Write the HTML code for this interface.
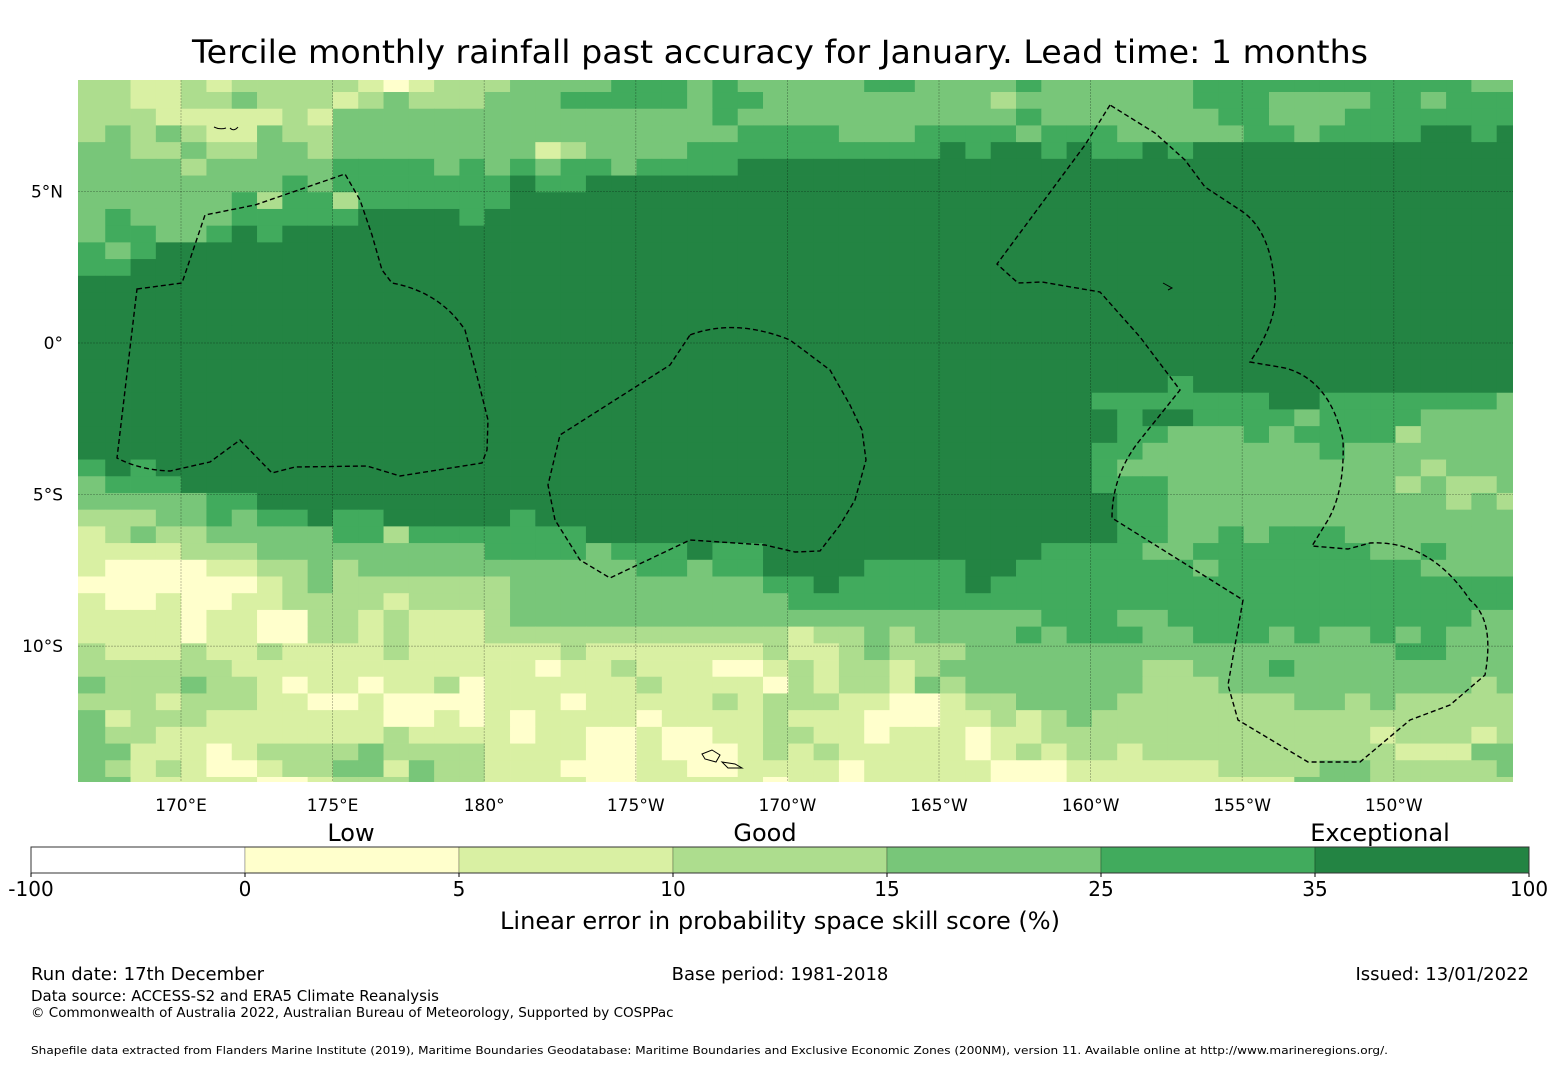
<!DOCTYPE html>
<html><head><meta charset="utf-8">
<style>
html,body{margin:0;padding:0;background:#fff;}
svg{display:block;font-family:"DejaVu Sans","Liberation Sans",sans-serif;}
</style></head>
<body>
<svg id="chart" width="1560" height="1065" viewBox="0 0 1560 1065" xmlns="http://www.w3.org/2000/svg">
<defs><clipPath id="mapclip"><rect x="78" y="80" width="1435" height="702"/></clipPath></defs>
<text x="780" y="63" text-anchor="middle" font-size="32" textLength="1176" lengthAdjust="spacingAndGlyphs">Tercile monthly rainfall past accuracy for January. Lead time: 1 months</text>
<g id="cells" clip-path="url(#mapclip)"></g>
<g id="grid" clip-path="url(#mapclip)"></g>
<g clip-path="url(#mapclip)" fill="none" stroke="#000" stroke-width="1.4" stroke-dasharray="5,3">
<path d="M137,289 L182,283 L205,215 L255,205 L345,174 L360,200 L372,235 L382,270 L392,283 Q440,292 465,330 L478,380 L488,420 L487,450 L482,463 L400,476 L367,466 L295,467 L272,473 L240,440 L210,462 L170,471 Q140,470 117,458 Z"/>
<path d="M690,335 Q735,318 790,340 L830,370 L850,405 L862,430 L866,460 L855,500 L840,525 L820,551 L795,552 L765,545 L690,540 L610,578 L580,560 L555,520 L548,485 L560,435 L670,365 Z"/>
<path d="M1110,105 L1085,145 L997,264 L1018,283 L1042,282 L1100,292 L1140,337 L1180,390 L1140,440 Q1112,475 1112,518 L1243,600 L1228,685 L1238,720 L1308,762 L1360,762 L1410,720 L1450,705 L1485,675 Q1495,620 1470,600 Q1430,540 1370,543 L1348,549 L1312,546 L1328,520 Q1345,490 1343,440 Q1330,380 1285,368 L1250,362 Q1278,320 1275,290 Q1272,230 1240,210 L1205,187 L1185,160 L1155,133 Z"/>
</g>
<g fill="none" stroke="#000" stroke-width="1">
<path d="M702,754 L712,750 L720,755 L716,762 L705,759 Z M722,762 L735,764 L742,768 L728,768 Z"/>
<path d="M214,127 Q220,130 226,128 M230,128 Q234,132 238,127"/>
<path d="M1163,283 L1172,288 L1168,290"/>
</g>
<g id="ticks" font-size="17"></g>
<g id="cbar"></g>
<text x="351" y="841" text-anchor="middle" font-size="24">Low</text>
<text x="765" y="841" text-anchor="middle" font-size="24">Good</text>
<text x="1380" y="841" text-anchor="middle" font-size="24">Exceptional</text>
<text x="780" y="929" text-anchor="middle" font-size="24" textLength="560" lengthAdjust="spacingAndGlyphs">Linear error in probability space skill score (%)</text>
<text x="31" y="980" font-size="18">Run date: 17th December</text>
<text x="780" y="980" text-anchor="middle" font-size="18">Base period: 1981-2018</text>
<text x="1529" y="980" text-anchor="end" font-size="18">Issued: 13/01/2022</text>
<text x="31" y="1001" font-size="15">Data source: ACCESS-S2 and ERA5 Climate Reanalysis</text>
<text x="31" y="1017" font-size="13.5">© Commonwealth of Australia 2022, Australian Bureau of Meteorology, Supported by COSPPac</text>
<text x="31" y="1054" font-size="11" textLength="1357" lengthAdjust="spacingAndGlyphs">Shapefile data extracted from Flanders Marine Institute (2019), Maritime Boundaries Geodatabase: Maritime Boundaries and Exclusive Economic Zones (200NM), version 11. Available online at http://www.marineregions.org/.</text>
</svg>
<script>
const categoryColors = ["#ffffff","#ffffcc","#d9f0a3","#addd8e","#78c679","#41ab5d","#238443"];
const cbarBounds = ["-100","0","5","10","15","25","35","100"];
const latTicks = [5,0,-5,-10];
const latTickLabels = ["5°N","0°","5°S","10°S"];
const lonTicks = [170,175,180,185,190,195,200,205,210];
const lonTickLabels = ["170°E","175°E","180°","175°W","170°W","165°W","160°W","155°W","150°W"];
const gridLon0 = 166.667, gridDLon = 0.8344, gridLat0 = 8.829, gridDLat = 0.551;
const S6 = "666666666666666666666666666666666666666666666666666666666";
const skillRows = [
"3322323333321233344445554544"+"44455444454444445555555555544",
"3322334333234333444555554554"+"44444444344444445554444554555",
"3332222232444444444444444544"+"44444444454444444554445555555",
"3434322433444444444444444455"+"55444555545554444455455556656",
"4433433443444444442344445555"+"55555565665655656666666666666",
"4444344444555545454554555566"+"66666666666666666666666666666",
"4444444454555555565566666666"+"66666666666666666666666666666",
"4444445355355555566666666666"+"66666666666666666666666666666",
"4544445555566665666666666666"+"66666666666666666666666666666",
"4554456566666666666666666666"+"66666666666666666666666666666",
"5456666666666666666666666666"+"66666666666666666666666666666",
"5566666666666666666666666666"+"66666666666666666666666666666",
S6,S6,S6,S6,S6,S6,
"6666666666666666666666666666"+"66666666666666656666666666666",
"6666666666666666666666666666"+"66666666666655555556655555554",
"6666666666666666666666666666"+"66666666666665665555455554444",
"6666666666666666666666666666"+"66666666666665544454555534444",
"6666666666666666666666666666"+"66666666666655444444454444444",
"5656666666666666666666666666"+"66666666666654444444444443444",
"4555666666666666666666666666"+"66666666666655544444444434334",
"4444455666666666666666666666"+"66666666666665544444444444343",
"3334454556556666656666666666"+"66666666666665544444444444444",
"2343344444553555555566666666"+"66666666666665544545554444444",
"2222333444444444555545556556"+"66666666665555445555555445444",
"2111122334344444444444554556"+"66655556655555554555555554444",
"1111111234333333344444444445"+"56555556555555555555555555555",
"2112112233332333344444444444"+"55555555555555555555555555555",
"2222122113323222344444444444"+"44444444445554455555555555544",
"2222122113323222333333333333"+"23343444454555445554544545444",
"3222322322223222222322222223"+"22343334444444444444444455444",
"3333332222222222221223222112"+"32332344444444334445444444444",
"4333433212212231222222322221"+"32332434444444333444444444434",
"3332333221121111222122222323"+"33221123344443333333443433333",
"4233322222221121212222122223"+"22211122323433333333333333333",
"4332222222223222212211211223"+"32212221223333333333333233323",
"4422212333343333222211211123"+"23222221232332333333333322244",
"4323211233442433222111221122"+"22122222111222222333344333334",
"4422222112333433222211222221"+"22122222111222222222444333333"
];
const NS="http://www.w3.org/2000/svg";
function xOfLon(lon){return 181+(lon-170)*30.32;}
function yOfLat(lat){return 343-lat*30.32;}
const cellsG=document.getElementById('cells');
skillRows.forEach(function(row,r){
  const latT=gridLat0-r*gridDLat, latB=latT-gridDLat;
  for(let c=0;c<row.length;c++){
    const v=+row[c];
    const lonL=gridLon0+c*gridDLon, lonR=lonL+gridDLon;
    let x0=xOfLon(lonL), x1=xOfLon(lonR);
    if(c===0) x0=70;
    if(c===row.length-1) x1=1520;
    const rect=document.createElementNS(NS,'rect');
    
    
    rect.setAttribute('x',x0.toFixed(2));
    rect.setAttribute('y',yOfLat(latT).toFixed(2));
    rect.setAttribute('width',(x1-x0+0.4).toFixed(2));
    rect.setAttribute('height',(yOfLat(latB)-yOfLat(latT)+0.4).toFixed(2));
    rect.setAttribute('fill',categoryColors[v]);
    cellsG.appendChild(rect);
  }
});
const gridG=document.getElementById('grid');
const ticksG=document.getElementById('ticks');
lonTicks.forEach(function(lon,i){
  const x=xOfLon(lon);
  const l=document.createElementNS(NS,'line');
  
  
  l.setAttribute('x1',x);l.setAttribute('x2',x);l.setAttribute('y1',80);l.setAttribute('y2',782);
  l.setAttribute('stroke','rgba(0,0,0,0.3)');l.setAttribute('stroke-width','0.8');l.setAttribute('stroke-dasharray','2,1');
  gridG.appendChild(l);
  const t=document.createElementNS(NS,'text');
  
  
  t.setAttribute('x',x);t.setAttribute('y',811);t.setAttribute('text-anchor','middle');
  t.textContent=lonTickLabels[i];
  ticksG.appendChild(t);
});
latTicks.forEach(function(lat,i){
  const y=yOfLat(lat);
  const l=document.createElementNS(NS,'line');
  
  
  l.setAttribute('x1',78);l.setAttribute('x2',1513);l.setAttribute('y1',y);l.setAttribute('y2',y);
  l.setAttribute('stroke','rgba(0,0,0,0.3)');l.setAttribute('stroke-width','0.8');l.setAttribute('stroke-dasharray','2,1');
  gridG.appendChild(l);
  const t=document.createElementNS(NS,'text');
  
  
  t.setAttribute('x',63);t.setAttribute('y',y+6);t.setAttribute('text-anchor','end');
  t.textContent=latTickLabels[i];
  ticksG.appendChild(t);
});
const cb=document.getElementById('cbar');
const cbX0=31, cbW=1498, nSeg=categoryColors.length;
function cbX(i){return cbX0+i*cbW/nSeg;}
for(let i=0;i<nSeg;i++){
  const r=document.createElementNS(NS,'rect');
  
  
  r.setAttribute('x',cbX(i));r.setAttribute('y',847);r.setAttribute('width',cbW/nSeg);r.setAttribute('height',26);
  r.setAttribute('fill',categoryColors[i]);r.setAttribute('stroke','rgba(0,0,0,0.25)');r.setAttribute('stroke-width','1');
  cb.appendChild(r);
}
const fr=document.createElementNS(NS,'rect');


fr.setAttribute('x',cbX0);fr.setAttribute('y',847);fr.setAttribute('width',cbW);fr.setAttribute('height',26);
fr.setAttribute('fill','none');fr.setAttribute('stroke','#333');fr.setAttribute('stroke-width','1');
cb.appendChild(fr);
cbarBounds.forEach(function(lbl,i){
  const x=cbX(i);
  const tk=document.createElementNS(NS,'line');
  
  
  tk.setAttribute('x1',x);tk.setAttribute('x2',x);tk.setAttribute('y1',873);tk.setAttribute('y2',877);tk.setAttribute('stroke','#000');
  cb.appendChild(tk);
  const t=document.createElementNS(NS,'text');
  
  
  t.setAttribute('x',x);t.setAttribute('y',896);t.setAttribute('text-anchor','middle');t.setAttribute('font-size','20');
  t.textContent=lbl;
  cb.appendChild(t);
});
</script>
</body></html>
